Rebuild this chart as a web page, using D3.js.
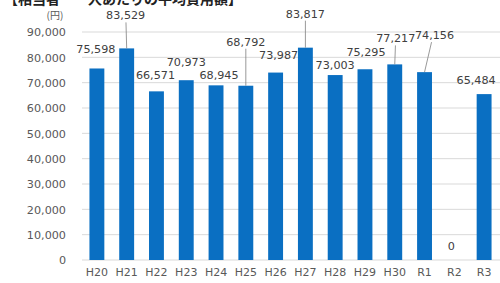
<!DOCTYPE html>
<html><head><meta charset="utf-8">
<script src="https://cdn.jsdelivr.net/npm/d3@7"></script>
<style>html,body{margin:0;padding:0;background:#fff;overflow:hidden}</style>
</head><body>
<svg id="c" width="500" height="283"></svg>
<script>
const categories = ["H20","H21","H22","H23","H24","H25","H26","H27","H28","H29","H30","R1","R2","R3"];
const values = [75598,83529,66571,70973,68945,68792,73987,83817,73003,75295,77217,74156,0,65484];
const yTicks = [0,10000,20000,30000,40000,50000,60000,70000,80000,90000];
const title = "【相当者　一人あたりの平均費用額】";
const unitLabel = "(円)";
// manual data-label placement (offset from bar top, in px), as in the original
const labelDx = [-1,-1,-1,0,3,0,3,0,0,1,1,10,-3,-8];
const labelDy = [-19,-33,-16,-18,-10,-44,-17,-34,-10,-17,-26,-37,-14,-14];
const hasLeader = [false,true,false,false,false,true,false,true,false,false,true,true,false,false];

const svg = d3.select("#c");
const font = "'DejaVu Sans','Noto Sans CJK JP',sans-serif";
const cjk = "'Noto Sans CJK JP',sans-serif";
const x = d3.scaleBand().domain(categories).range([82, 499]).paddingInner(0.5).paddingOuter(0.25);
const y = d3.scaleLinear().domain([0, 90000]).range([260, 32]);

// gridlines
svg.append("g").selectAll("line").data(yTicks).join("line")
  .attr("x1", 82).attr("x2", 500)
  .attr("y1", d => y(d)).attr("y2", d => y(d))
  .attr("stroke", "#d9d9d9").attr("stroke-width", 1);

// y axis labels
const yAxis = d3.axisLeft(y).tickValues(yTicks).tickSize(0).tickPadding(0).tickFormat(d3.format(","));
const gy = svg.append("g").attr("transform", "translate(66,0)").call(yAxis);
gy.select(".domain").remove();
gy.selectAll("text").attr("font-family", font).attr("font-size", 11.2).attr("fill", "#595959").attr("dy", "0.35em");

// x axis labels
const xAxis = d3.axisBottom(x).tickSize(0).tickPadding(0);
const gx = svg.append("g").attr("transform", "translate(0,268)").call(xAxis);
gx.select(".domain").remove();
gx.selectAll("text").attr("font-family", font).attr("font-size", 11).attr("fill", "#595959").attr("dy", "0.75em");

// bars
svg.append("g").selectAll("rect").data(categories).join("rect")
  .attr("x", d => x(d)).attr("width", x.bandwidth())
  .attr("y", (d,i) => y(values[i])).attr("height", (d,i) => y(0) - y(values[i]))
  .attr("fill", "#0a6fc2");

// leader lines
svg.append("g").selectAll("line").data(categories.filter((d,i)=>hasLeader[i])).join("line")
  .each(function(d){
    const i = categories.indexOf(d);
    const cx = x(d) + x.bandwidth()/2;
    const top = y(values[i]);
    d3.select(this)
      .attr("x1", cx + labelDx[i]*0.7).attr("y1", top + labelDy[i] + 7)
      .attr("x2", cx).attr("y2", top);
  })
  .attr("stroke", "#7f7f7f").attr("stroke-width", 0.8);

// data labels
svg.append("g").selectAll("text").data(categories).join("text")
  .attr("x", (d,i) => x(d) + x.bandwidth()/2 + labelDx[i])
  .attr("y", (d,i) => y(values[i]) + labelDy[i])
  .attr("dy", "0.35em")
  .attr("text-anchor", "middle")
  .attr("font-family", font).attr("font-size", 11.2).attr("fill", "#404040")
  .text((d,i) => d3.format(",")(values[i]));

// unit label
svg.append("text").attr("x", 55).attr("y", 19).attr("text-anchor", "middle")
  .attr("font-family", cjk).attr("font-size", 10).attr("fill", "#595959").text(unitLabel);

// title (cropped at top as in reference)
svg.append("text").attr("x", 4).attr("y", 3.5)
  .attr("font-family", cjk).attr("font-size", 14).attr("font-weight", "bold").attr("fill", "#222")
  .text(title);
</script>
</body></html>
